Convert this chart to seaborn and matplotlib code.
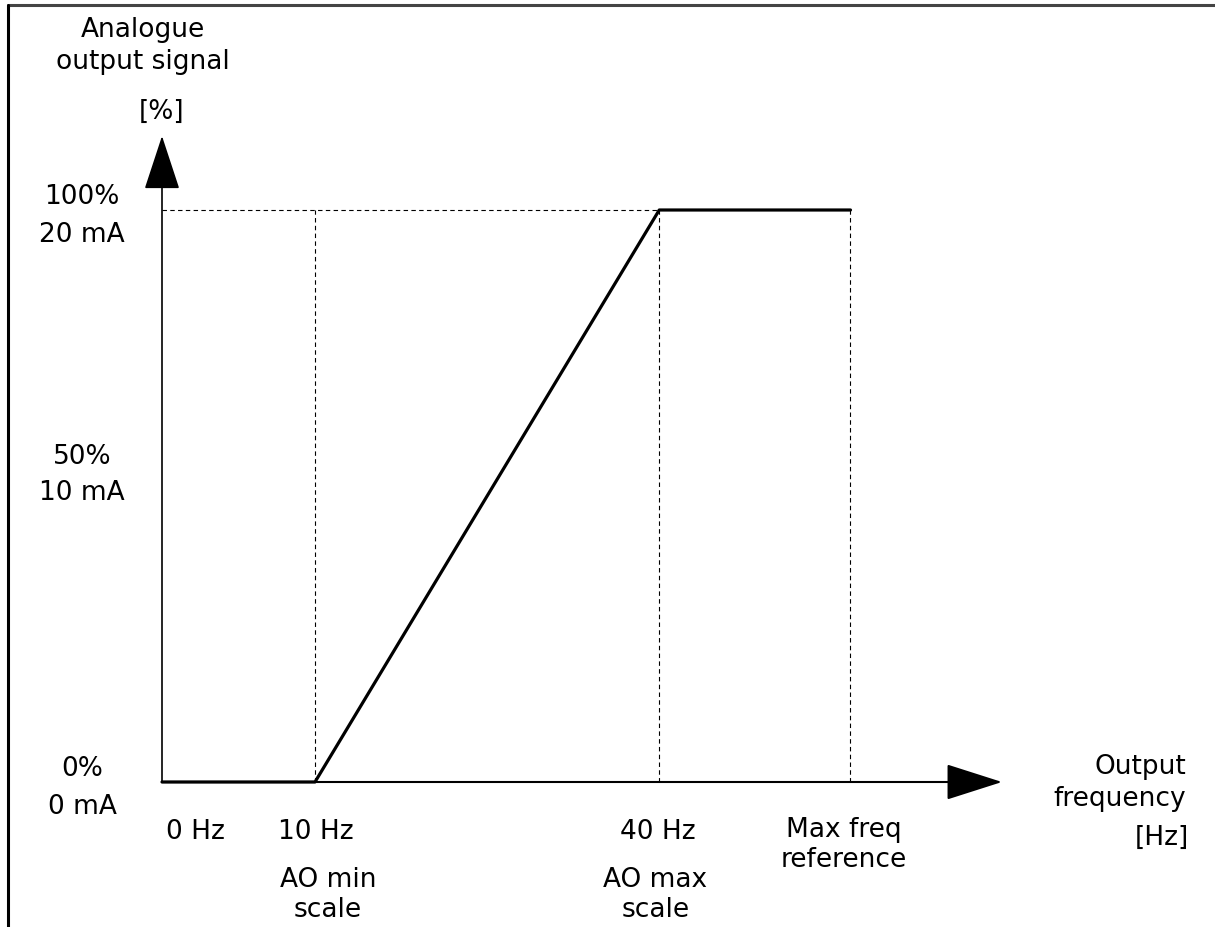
import matplotlib
matplotlib.use("Agg")
import matplotlib.pyplot as plt
from matplotlib.lines import Line2D
import seaborn as sns

# schematic data (x positions are schematic, not to scale)
freq_pos = [0, 1, 3.25, 4.5]
freq_labels = ["0 Hz", "10 Hz", "40 Hz", "Max freq\nreference"]
signal = [0, 0, 100, 100]
level_vals = [0, 50, 100]
level_labels = ["0%\n0 mA", "50%\n10 mA", "100%\n20 mA"]
scale_labels = ["AO min\nscale", "AO max\nscale"]

sns.set_style("white")
plt.rcParams["font.family"] = ["DejaVu Sans"]
plt.rcParams["text.color"] = "black"
FS = 19

W, H = 1215, 927
fig = plt.figure(figsize=(W / 100, H / 100), dpi=100)
ax = fig.add_axes([0, 0, 1, 1])
ax.set_axis_off()

# map data so that x=0 -> px 162, 1 unit = 153 px; y=0 -> px 782, 100 -> px 210
x0, xu = 162, 153
y0, yu = 782, 5.72
ax.set_xlim(-x0 / xu, (W - x0) / xu)
ax.set_ylim(-(H - y0) / yu, y0 / yu)

def px(p):  # pixel offset -> points
    return p * 0.72

# dashed guides
ax.hlines(level_vals[-1], freq_pos[0], freq_pos[2], colors="black", lw=0.8,
          linestyles=(0, (4, 3)))
ax.vlines(freq_pos[1:], level_vals[0], level_vals[-1], colors="black", lw=0.8,
          linestyles=(0, (4, 3)))

# axes with arrow heads
ax.annotate("", xy=(0, (y0 - 136) / yu), xytext=(0, 0),
            arrowprops=dict(arrowstyle="-|>,head_length=35,head_width=11.5",
                            mutation_scale=1, color="black", lw=1.2,
                            shrinkA=0, shrinkB=0))
ax.annotate("", xy=((1002 - x0) / xu, 0), xytext=(0, 0),
            arrowprops=dict(arrowstyle="-|>,head_length=36,head_width=11.5",
                            mutation_scale=1, color="black", lw=1.5,
                            shrinkA=0, shrinkB=0))

# signal curve
sns.lineplot(x=freq_pos, y=signal, ax=ax, color="black", lw=2.3)

# frequency labels
x_offsets = [33, 1, -1, -7]
for pos, lab, dx in zip(freq_pos, freq_labels, x_offsets):
    ax.annotate(lab, xy=(pos, 0), xytext=(px(dx), px(-50 if "\n" not in lab else -63)),
                textcoords="offset points", ha="center", va="center",
                fontsize=FS, linespacing=1.2)
for pos, lab, dx in zip(freq_pos[1:3], scale_labels, [13, -4]):
    ax.annotate(lab, xy=(pos, 0), xytext=(px(dx), px(-113)),
                textcoords="offset points", ha="center", va="center",
                fontsize=FS, linespacing=1.2)

# level labels
y_offsets = [-6, 21, -6]
for val, lab, dy in zip(level_vals, level_labels, y_offsets):
    ax.annotate(lab, xy=(0, val), xytext=(px(-80), px(dy)),
                textcoords="offset points", ha="center", va="center",
                fontsize=FS, linespacing=1.55)

# axis titles
fig.text(143 / W, 1 - 46 / H, "Analogue\noutput signal", ha="center", va="center",
         fontsize=FS, linespacing=1.3)
fig.text(162 / W, 1 - 112 / H, "[%]", ha="center", va="center", fontsize=FS)
fig.text(1186 / W, 1 - 783 / H, "Output\nfrequency", ha="right", va="center",
         fontsize=FS, linespacing=1.27)
fig.text(1162 / W, 1 - 838 / H, "[Hz]", ha="center", va="center", fontsize=FS)

# outer frame (top and left)
fig.add_artist(Line2D([8 / W, 1], [1 - 5 / H, 1 - 5 / H], transform=fig.transFigure,
                      color="#444444", lw=2.2))
fig.add_artist(Line2D([8 / W, 8 / W], [1 - 5 / H, 0], transform=fig.transFigure,
                      color="black", lw=2.2))

fig.savefig("out.png", dpi=100)
